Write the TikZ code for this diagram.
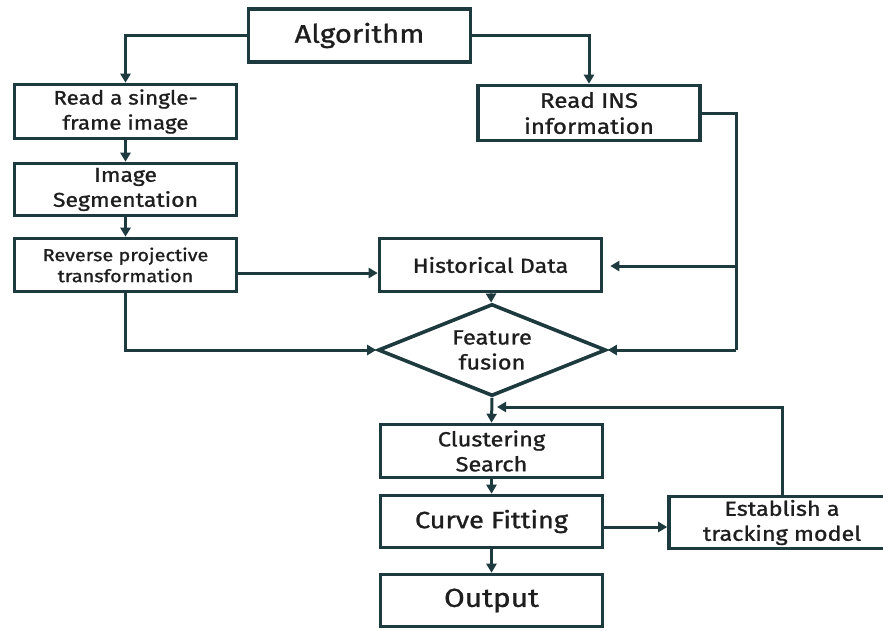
\documentclass[tikz,border=0pt]{standalone}
\usepackage{fontspec}
\setmainfont{Fira Sans}[FakeStretch=1.15, FakeBold=1.1]
\usetikzlibrary{arrows.meta,shapes.geometric}
\definecolor{ln}{HTML}{1D3A3F}
\definecolor{tx}{HTML}{1E1E1E}
\newcommand{\fs}[2]{\fontsize{#1}{#2}\selectfont}
\tikzset{
  box/.style={draw=ln, line width=3.6pt, text=tx, align=center, inner sep=0pt, minimum width=222pt},
  dia/.style={draw=ln, line width=3.6pt, diamond, text=tx, align=center, inner sep=0pt, minimum width=228pt, minimum height=92pt, aspect=2.45},
  arr/.style={draw=ln, line width=3pt, -{Triangle[length=9pt,width=10pt]}},
  ln/.style={draw=ln, line width=3pt}
}
\begin{document}
\begin{tikzpicture}[x=1pt,y=-1pt]
\clip (0,0) rectangle (883,630);
\fill[white] (0,0) rectangle (883,630);
\node[box, minimum height=53pt, font=\fs{25.5}{30}] (alg) at (359.5,35.5) {Algorithm};
\node[box, minimum height=54pt, font=\fs{19.5}{25}] (read) at (125.5,111.5) {Read a single-\\frame image};
\node[box, minimum height=52pt, font=\fs{20}{25}] (seg) at (125.5,189.5) {Image\\Segmentation};
\node[box, minimum height=53pt, font=\fs{17.3}{21}] (rev) at (125.5,265) {Reverse projective\\transformation};
\node[box, minimum height=55pt, font=\fs{21}{26}] (ins) at (589,113) {Read INS\\information};
\node[box, minimum height=53pt, font=\fs{20.3}{25}] (hist) at (490.5,265) {Historical Data};
\node[dia, font=\fs{20.5}{25}] (fus) at (492,350) {Feature\\fusion};
\node[box, minimum height=53pt, font=\fs{20.5}{25}] (clus) at (491.5,451) {Clustering\\Search};
\node[box, minimum height=52pt, font=\fs{23.5}{28}] (curve) at (491.5,521.5) {Curve Fitting};
\node[box, minimum height=52pt, font=\fs{26}{30}] (out) at (491.5,600.5) {Output};
\node[box, minimum height=52pt, minimum width=226pt, font=\fs{20.3}{25}] (est) at (782,522.5) {Establish a\\tracking model};
\coordinate (fb) at (497,407);
% connectors
\draw[arr] (alg.west) -| (read.north);
\draw[arr] (alg.east) -| (ins.north);
\draw[arr] (read) -- (seg);
\draw[arr] (seg) -- (rev);
\draw[arr] (rev.east |- 0,273) -- (hist.west |- 0,273);
\draw[ln] (ins.east) -| (736,350);
\draw[arr] (736,350) -- (fus.east);
\draw[arr, shorten >=7pt] (736,266) -- (hist.east |- 0,266);
\draw[arr] (rev.south) |- (fus.west);
\draw[arr] (hist) -- (fus);
\draw[arr] (fus.south) -- (clus.north);
\draw[arr] (clus) -- (curve);
\draw[arr] (curve) -- (out);
\draw[arr] (curve.east |- 0,527) -- (est.west |- 0,527);
\draw[arr] (est.north) |- (fb);
\end{tikzpicture}
\end{document}
